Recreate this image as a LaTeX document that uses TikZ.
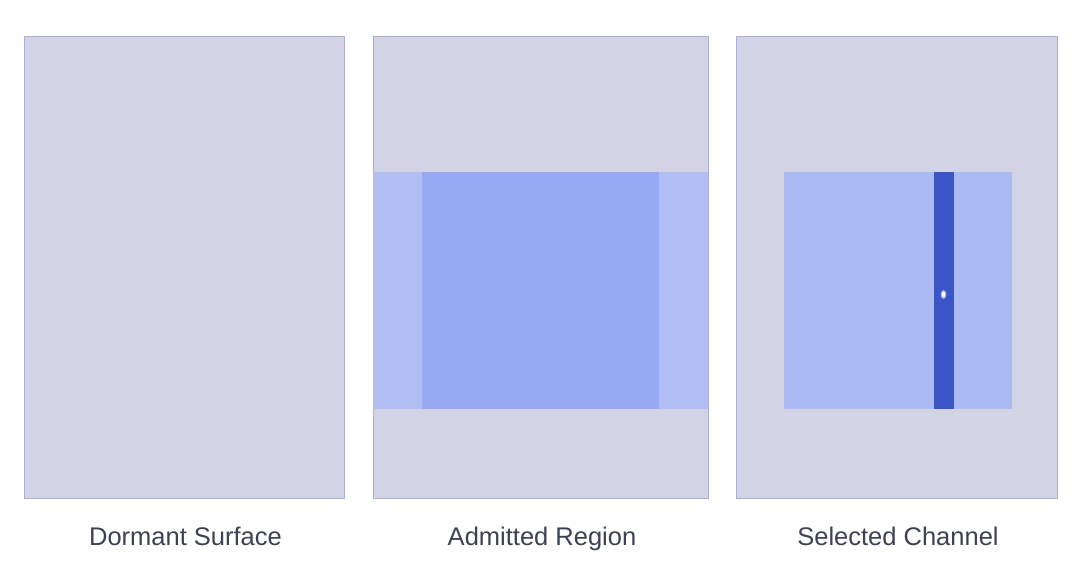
\documentclass[tikz,border=0pt]{standalone}
\usepackage{fontspec}
\setmainfont{Liberation Sans}
\usetikzlibrary{positioning}

\definecolor{surface}{HTML}{D2D4E5}
\definecolor{panelrim}{HTML}{A9B0D3}
\definecolor{haze}{HTML}{B2BEF1}
\definecolor{admit}{HTML}{96A9F2}
\definecolor{chanfield}{HTML}{ACBAF4}
\definecolor{channel}{HTML}{3B55C6}
\definecolor{halo}{HTML}{9FB0EE}
\definecolor{captext}{HTML}{3D4153}

\tikzset{
    panel/.style={draw=panelrim, line width=0.8pt, fill=surface, inner sep=0pt,
        minimum width=#1, minimum height=462pt},
    caption/.style={font=\fontsize{25.5}{29}\selectfont, text=captext, inner sep=0pt}
}

\begin{document}
\begin{tikzpicture}[x=1pt, y=-1pt]
        \useasboundingbox (0,0) rectangle (1080,587); % page size

        % Panels with their captions
        \foreach \name/\cx/\w/\txt in {dormant/184/320/Dormant Surface,
                admitted/540.5/335/Admitted Region,
                selected/896.5/321/Selected Channel} {
            \node[panel=\w pt] (\name) at (\cx,267) {};
            \node[caption, below=47pt of \name.south, anchor=base, xshift=1.5pt] (\name-lbl) {\txt};
        }

        % Second panel: admitted band
        \begin{scope}
            \fill[haze] (373,172) rectangle (708,409); % full-width band
            \fill[admit] (422,172) rectangle (659,409); % admitted square
        \end{scope}

        % Third panel: selected channel
        \begin{scope}
            \fill[chanfield] (784,172) rectangle (1012,409); % field
            \fill[channel] (934,172) rectangle (954,409); % channel bar
            \fill[halo] (943.5,294.5) ellipse (3pt and 4.5pt); % glow
            \fill[white] (943.5,294.5) ellipse (1.6pt and 2.8pt); % point
        \end{scope}
    \end{tikzpicture}
\end{document}
